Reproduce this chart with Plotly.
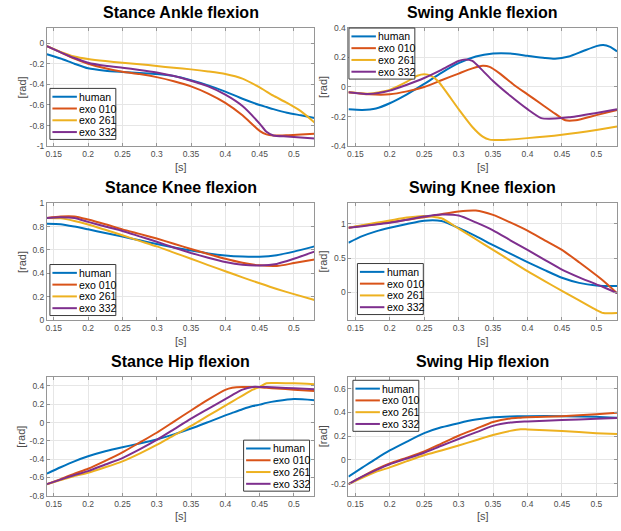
import plotly.graph_objects as go

W, H = 621, 531
FONT = "Liberation Sans, Arial, sans-serif"

SERIES = ["human", "exo 010", "exo 261", "exo 332"]
COLORS = ["#0072BD", "#D95319", "#EDB120", "#7E2F8E"]

x_tickvals = [0.15, 0.2, 0.25, 0.3, 0.35, 0.4, 0.45, 0.5]
x_ticktext = ["0.15", "0.2", "0.25", "0.3", "0.35", "0.4", "0.45", "0.5"]

# ---------------- Stance Ankle flexion ----------------
t_stance_ankle = [0.14, 0.16, 0.18, 0.2, 0.225, 0.25, 0.275, 0.3, 0.325, 0.35, 0.375, 0.4, 0.425, 0.45, 0.46, 0.47, 0.49, 0.51, 0.53]
stance_ankle_human = [-0.108, -0.15, -0.2, -0.245, -0.268, -0.28, -0.29, -0.3, -0.32, -0.36, -0.41, -0.47, -0.54, -0.6, -0.62, -0.64, -0.675, -0.7, -0.725]
stance_ankle_010 = [-0.03, -0.09, -0.15, -0.2, -0.245, -0.277, -0.3, -0.33, -0.37, -0.42, -0.49, -0.58, -0.7, -0.85, -0.885, -0.895, -0.892, -0.885, -0.878]
stance_ankle_261 = [-0.03, -0.085, -0.13, -0.155, -0.175, -0.19, -0.205, -0.222, -0.24, -0.255, -0.275, -0.3, -0.345, -0.43, -0.47, -0.51, -0.58, -0.66, -0.77]
stance_ankle_332 = [-0.03, -0.09, -0.145, -0.19, -0.22, -0.24, -0.26, -0.285, -0.32, -0.365, -0.42, -0.5, -0.61, -0.78, -0.86, -0.895, -0.905, -0.915, -0.925]
stance_ankle_yticks = [-1, -0.8, -0.6, -0.4, -0.2, 0]
stance_ankle_ytext = ["-1", "-0.8", "-0.6", "-0.4", "-0.2", "0"]

# ---------------- Swing Ankle flexion ----------------
t_swing_ankle_human = [0.14, 0.16, 0.18, 0.2, 0.225, 0.25, 0.275, 0.3, 0.325, 0.35, 0.375, 0.4, 0.425, 0.44, 0.46, 0.48, 0.5, 0.51, 0.52, 0.53]
swing_ankle_human = [-0.151, -0.155, -0.145, -0.11, -0.05, 0.02, 0.095, 0.16, 0.205, 0.225, 0.225, 0.21, 0.195, 0.19, 0.205, 0.24, 0.275, 0.283, 0.27, 0.24]
t_swing_ankle_010 = [0.14, 0.17, 0.2, 0.225, 0.25, 0.275, 0.3, 0.32, 0.335, 0.345, 0.36, 0.38, 0.4, 0.42, 0.44, 0.455, 0.47, 0.5, 0.53]
swing_ankle_010 = [-0.036, -0.05, -0.05, -0.03, 0.0, 0.045, 0.09, 0.125, 0.142, 0.135, 0.09, 0.015, -0.05, -0.115, -0.18, -0.225, -0.225, -0.19, -0.155]
t_swing_ankle_261 = [0.14, 0.17, 0.2, 0.225, 0.24, 0.25, 0.26, 0.27, 0.3, 0.32, 0.335, 0.345, 0.36, 0.4, 0.45, 0.5, 0.53]
swing_ankle_261 = [-0.036, -0.045, -0.02, 0.035, 0.075, 0.085, 0.075, 0.04, -0.15, -0.27, -0.335, -0.355, -0.358, -0.345, -0.322, -0.29, -0.267]
t_swing_ankle_332 = [0.14, 0.17, 0.2, 0.225, 0.25, 0.275, 0.3, 0.31, 0.32, 0.335, 0.35, 0.375, 0.4, 0.42, 0.44, 0.46, 0.5, 0.53]
swing_ankle_332 = [-0.036, -0.048, -0.025, 0.015, 0.06, 0.115, 0.175, 0.185, 0.175, 0.11, 0.04, -0.06, -0.15, -0.21, -0.213, -0.205, -0.175, -0.151]
swing_ankle_yticks = [-0.4, -0.2, 0, 0.2, 0.4]
swing_ankle_ytext = ["-0.4", "-0.2", "0", "0.2", "0.4"]

# ---------------- Stance Knee flexion ----------------
t_stance_knee = [0.14, 0.16, 0.18, 0.2, 0.225, 0.25, 0.275, 0.3, 0.325, 0.35, 0.375, 0.4, 0.425, 0.45, 0.475, 0.5, 0.53]
stance_knee_human = [0.824, 0.82, 0.8, 0.776, 0.745, 0.714, 0.682, 0.65, 0.62, 0.594, 0.57, 0.552, 0.543, 0.542, 0.555, 0.585, 0.63]
stance_knee_010 = [0.874, 0.886, 0.886, 0.86, 0.82, 0.776, 0.737, 0.697, 0.653, 0.608, 0.565, 0.524, 0.49, 0.468, 0.462, 0.487, 0.518]
stance_knee_261 = [0.874, 0.87, 0.848, 0.818, 0.772, 0.725, 0.677, 0.63, 0.577, 0.524, 0.47, 0.417, 0.365, 0.314, 0.265, 0.221, 0.171]
stance_knee_332 = [0.874, 0.88, 0.873, 0.84, 0.8, 0.762, 0.716, 0.67, 0.62, 0.574, 0.533, 0.496, 0.472, 0.466, 0.48, 0.524, 0.585]
stance_knee_yticks = [0, 0.2, 0.4, 0.6, 0.8, 1]
stance_knee_ytext = ["0", "0.2", "0.4", "0.6", "0.8", "1"]

# ---------------- Swing Knee flexion ----------------
t_swing_knee = [0.14, 0.16, 0.18, 0.2, 0.225, 0.25, 0.275, 0.3, 0.325, 0.35, 0.375, 0.4, 0.425, 0.45, 0.475, 0.5, 0.51, 0.53]
swing_knee_human = [0.724, 0.82, 0.89, 0.943, 0.998, 1.045, 1.04, 0.94, 0.82, 0.69, 0.565, 0.443, 0.325, 0.214, 0.14, 0.1, 0.095, 0.095]
swing_knee_010 = [0.943, 0.97, 0.997, 1.024, 1.06, 1.095, 1.14, 1.18, 1.193, 1.13, 1.02, 0.9, 0.76, 0.62, 0.44, 0.25, 0.17, -0.01]
swing_knee_261 = [0.943, 0.98, 1.015, 1.048, 1.09, 1.115, 1.08, 0.93, 0.775, 0.62, 0.465, 0.31, 0.165, 0.024, -0.115, -0.255, -0.3, -0.3]
swing_knee_332 = [0.943, 0.965, 0.99, 1.014, 1.06, 1.105, 1.135, 1.12, 1.02, 0.905, 0.76, 0.619, 0.475, 0.333, 0.22, 0.119, 0.08, -0.01]
swing_knee_yticks = [0, 0.5, 1]
swing_knee_ytext = ["0", "0.5", "1"]

# ---------------- Stance Hip flexion ----------------
t_stance_hip = [0.14, 0.16, 0.18, 0.2, 0.225, 0.25, 0.275, 0.3, 0.325, 0.35, 0.375, 0.4, 0.41, 0.425, 0.44, 0.45, 0.46, 0.475, 0.5, 0.53]
stance_hip_human = [-0.56, -0.49, -0.425, -0.37, -0.315, -0.27, -0.23, -0.185, -0.13, -0.066, 0.005, 0.078, 0.105, 0.145, 0.18, 0.196, 0.215, 0.235, 0.257, 0.245]
stance_hip_010 = [-0.675, -0.62, -0.56, -0.506, -0.42, -0.327, -0.22, -0.112, 0.01, 0.132, 0.25, 0.357, 0.38, 0.39, 0.388, 0.385, 0.38, 0.372, 0.36, 0.345]
stance_hip_261 = [-0.675, -0.63, -0.585, -0.55, -0.49, -0.425, -0.34, -0.245, -0.14, -0.037, 0.075, 0.185, 0.23, 0.295, 0.36, 0.39, 0.43, 0.432, 0.429, 0.42]
stance_hip_332 = [-0.675, -0.625, -0.575, -0.532, -0.46, -0.389, -0.295, -0.191, -0.075, 0.042, 0.15, 0.257, 0.3, 0.36, 0.39, 0.39, 0.388, 0.383, 0.375, 0.364]
stance_hip_yticks = [-0.8, -0.6, -0.4, -0.2, 0, 0.2, 0.4]
stance_hip_ytext = ["-0.8", "-0.6", "-0.4", "-0.2", "0", "0.2", "0.4"]

# ---------------- Swing Hip flexion ----------------
t_swing_hip = [0.14, 0.16, 0.18, 0.2, 0.225, 0.25, 0.275, 0.3, 0.325, 0.35, 0.375, 0.39, 0.4, 0.45, 0.5, 0.53]
swing_hip_human = [-0.14, -0.065, 0.01, 0.08, 0.155, 0.226, 0.275, 0.31, 0.34, 0.36, 0.367, 0.368, 0.369, 0.369, 0.364, 0.355]
swing_hip_010 = [-0.203, -0.14, -0.08, -0.03, 0.02, 0.072, 0.138, 0.204, 0.262, 0.32, 0.35, 0.356, 0.36, 0.369, 0.385, 0.397]
swing_hip_261 = [-0.203, -0.15, -0.1, -0.062, -0.01, 0.04, 0.08, 0.122, 0.166, 0.21, 0.245, 0.259, 0.257, 0.243, 0.226, 0.218]
swing_hip_332 = [-0.203, -0.14, -0.085, -0.036, 0.012, 0.061, 0.12, 0.177, 0.232, 0.287, 0.315, 0.322, 0.325, 0.336, 0.347, 0.353]
swing_hip_yticks = [-0.2, 0, 0.2, 0.4, 0.6]
swing_hip_ytext = ["-0.2", "0", "0.2", "0.4", "0.6"]

panels = [
    dict(title="Stance Ankle flexion",
         ts=[t_stance_ankle] * 4,
         ys=[stance_ankle_human, stance_ankle_010, stance_ankle_261, stance_ankle_332],
         yrange=[-1, 0.15], yt=stance_ankle_yticks, ytt=stance_ankle_ytext,
         box=(46, 23, 314, 144), legend=(49, 85)),
    dict(title="Swing Ankle flexion",
         ts=[t_swing_ankle_human, t_swing_ankle_010, t_swing_ankle_261, t_swing_ankle_332],
         ys=[swing_ankle_human, swing_ankle_010, swing_ankle_261, swing_ankle_332],
         yrange=[-0.4, 0.4], yt=swing_ankle_yticks, ytt=swing_ankle_ytext,
         box=(348, 23, 617, 144), legend=(348.5, 23.5)),
    dict(title="Stance Knee flexion",
         ts=[t_stance_knee] * 4,
         ys=[stance_knee_human, stance_knee_010, stance_knee_261, stance_knee_332],
         yrange=[0, 1], yt=stance_knee_yticks, ytt=stance_knee_ytext,
         box=(46, 202, 314, 321), legend=(49, 264.5)),
    dict(title="Swing Knee flexion",
         ts=[t_swing_knee] * 4,
         ys=[swing_knee_human, swing_knee_010, swing_knee_261, swing_knee_332],
         yrange=[-0.4, 1.3], yt=swing_knee_yticks, ytt=swing_knee_ytext,
         box=(348, 202, 617, 321), legend=(357, 263.5)),
    dict(title="Stance Hip flexion",
         ts=[t_stance_hip] * 4,
         ys=[stance_hip_human, stance_hip_010, stance_hip_261, stance_hip_332],
         yrange=[-0.8, 0.5], yt=stance_hip_yticks, ytt=stance_hip_ytext,
         box=(46, 379, 314, 500), legend=(243, 443.5)),
    dict(title="Swing Hip flexion",
         ts=[t_swing_hip] * 4,
         ys=[swing_hip_human, swing_hip_010, swing_hip_261, swing_hip_332],
         yrange=[-0.3, 0.7], yt=swing_hip_yticks, ytt=swing_hip_ytext,
         box=(348, 379, 617, 500), legend=(352.5, 382.5)),
]

AX_COLOR = "#969696"
GRID_COLOR = "#e6e6e6"
TICK_FONT = dict(family=FONT, size=8.5, color="#4d4d4d")

fig = go.Figure()
layout = dict(width=W, height=H, margin=dict(l=0, r=0, t=0, b=0),
              paper_bgcolor="white", plot_bgcolor="white", showlegend=False)
annotations = []
shapes = []

def px_x(v):
    return v / W

def px_y(v):
    return 1 - v / H

for i, p in enumerate(panels):
    n = "" if i == 0 else str(i + 1)
    x0, y0, x1, y1 = p["box"]
    for k in range(4):
        fig.add_trace(go.Scatter(
            x=p["ts"][k], y=p["ys"][k], name=SERIES[k], mode="lines",
            line=dict(color=COLORS[k], width=2, shape="spline", smoothing=0.6),
            xaxis="x" + n, yaxis="y" + n, showlegend=False))
    common = dict(showline=True, linecolor=AX_COLOR, linewidth=1, mirror="ticks",
                  ticks="inside", ticklen=3, tickcolor=AX_COLOR, showgrid=True,
                  gridcolor=GRID_COLOR, gridwidth=1, zeroline=False, tickfont=TICK_FONT)
    layout["xaxis" + n] = dict(domain=[px_x(x0), px_x(x1)], range=[0.14, 0.53],
                               tickvals=x_tickvals, ticktext=x_ticktext,
                               anchor="y" + n, **common)
    layout["yaxis" + n] = dict(domain=[px_y(y1), px_y(y0)], range=p["yrange"],
                               tickvals=p["yt"], ticktext=p["ytt"],
                               anchor="x" + n, **common)
    cx = (x0 + x1) / 2
    # title
    annotations.append(dict(text="<b>%s</b>" % p["title"], x=px_x(cx), y=px_y(y0 - 5),
                            xref="paper", yref="paper", xanchor="center", yanchor="bottom",
                            showarrow=False, font=dict(family=FONT, size=16, color="black")))
    # axis labels
    annotations.append(dict(text="[s]", x=px_x(cx), y=px_y(y1 + 21), xref="paper", yref="paper",
                            xanchor="center", yanchor="middle", showarrow=False,
                            font=dict(family=FONT, size=11, color="#4d4d4d")))
    annotations.append(dict(text="[rad]", x=px_x(x0 - 25.5), y=px_y((y0 + y1) / 2), xref="paper",
                            yref="paper", xanchor="center", yanchor="middle", textangle=-90,
                            showarrow=False, font=dict(family=FONT, size=11, color="#4d4d4d")))
    # legend box
    lx, ly = p["legend"]
    shapes.append(dict(type="rect", xref="paper", yref="paper",
                       x0=px_x(lx), x1=px_x(lx + 66), y0=px_y(ly + 52), y1=px_y(ly),
                       line=dict(color="#3a3a3a", width=1), fillcolor="white", layer="above"))
    for k in range(4):
        yy = ly + 8.5 + 12 * k
        shapes.append(dict(type="line", xref="paper", yref="paper",
                           x0=px_x(lx + 2.5), x1=px_x(lx + 27), y0=px_y(yy), y1=px_y(yy),
                           line=dict(color=COLORS[k], width=2), layer="above"))
        annotations.append(dict(text=SERIES[k], x=px_x(lx + 28.5), y=px_y(yy), xref="paper",
                                yref="paper", xanchor="left", yanchor="middle", showarrow=False,
                                borderpad=0, font=dict(family=FONT, size=10.5, color="black")))

layout["annotations"] = annotations
layout["shapes"] = shapes
fig.update_layout(**layout)
fig.write_html("out.html", config={"displayModeBar": False},
               post_script="document.body.style.margin='0';")
